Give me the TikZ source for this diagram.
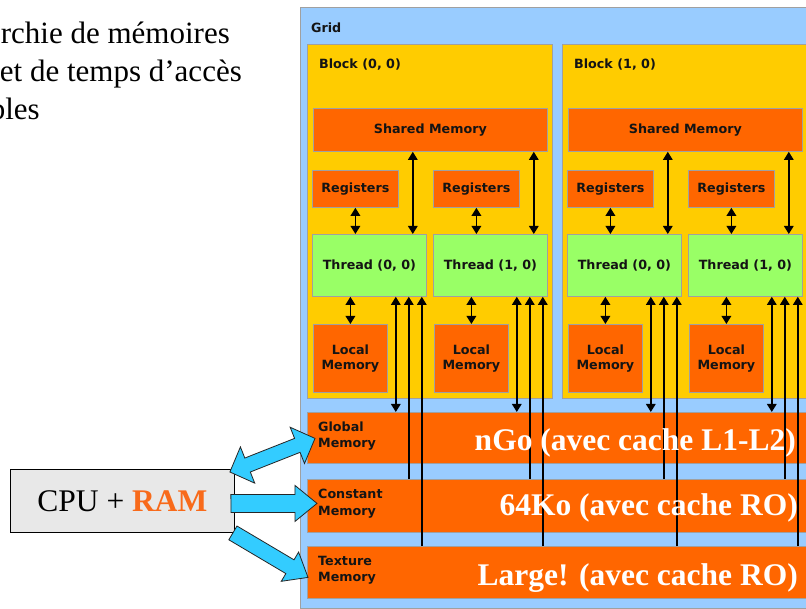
\documentclass[tikz,border=0pt]{standalone}
\usepackage{fontspec}
\setmainfont{Liberation Serif}
\newfontfamily\diagfont{DejaVu Sans}
\usetikzlibrary{calc,arrows.meta}

\definecolor{gridblue}{HTML}{99CCFF}
\definecolor{blockgold}{HTML}{FFCC00}
\definecolor{memorange}{HTML}{FF6600}
\definecolor{threadgreen}{HTML}{99FF66}
\definecolor{edgegray}{HTML}{A0A0A0}
\definecolor{labelink}{HTML}{141414}
\definecolor{cpugray}{HTML}{E8E8E8}
\definecolor{busblue}{HTML}{33CCFF}
\definecolor{ramorange}{HTML}{F86A1A}

% single-headed block arrow: from, to, head length, head half width, shaft half width
\newcommand\fatarrow[5]{%
  \coordinate (fa-h) at ($(#2)!#3!(#1)$);
  \filldraw[fatarrow] ($(#1)!#5!90:(#2)$) -- ($(fa-h)!#5!90:(#2)$) -- ($(fa-h)!#4!90:(#2)$)
    -- (#2) -- ($(fa-h)!#4!-90:(#2)$) -- ($(fa-h)!#5!-90:(#2)$) -- ($(#1)!#5!-90:(#2)$) -- cycle;
}
% double-headed block arrow with the same parameters
\newcommand\fatdblarrow[5]{%
  \coordinate (fa-h1) at ($(#1)!#3!(#2)$);
  \coordinate (fa-h2) at ($(#2)!#3!(#1)$);
  \filldraw[fatarrow] (#1) -- ($(fa-h1)!#4!90:(#2)$) -- ($(fa-h1)!#5!90:(#2)$)
    -- ($(fa-h2)!#5!90:(#2)$) -- ($(fa-h2)!#4!90:(#2)$) -- (#2)
    -- ($(fa-h2)!#4!-90:(#2)$) -- ($(fa-h2)!#5!-90:(#2)$)
    -- ($(fa-h1)!#5!-90:(#2)$) -- ($(fa-h1)!#4!-90:(#2)$) -- cycle;
}

\tikzset{
  diaglabel/.style={font=\diagfont\bfseries\fontsize{12.7}{15.5}\selectfont, text=labelink},
  box/.style={draw=edgegray, line width=0.8pt, inner sep=0pt, diaglabel},
  gridbox/.style={box, fill=gridblue},
  blockbox/.style={box, fill=blockgold},
  membox/.style={box, fill=memorange},
  threadbox/.style={box, fill=threadgreen},
  lbl/.style={inner sep=0pt, diaglabel},
  memlbl/.style={inner sep=0pt, align=left, font=\diagfont\bfseries\fontsize{12.7}{16.5}\selectfont, text=labelink},
  link/.style={line width=1.4pt, draw=black, {Triangle[width=9.5pt,length=8pt]}-{Triangle[width=9.5pt,length=8pt]}},
  uplink/.style={line width=1.4pt, draw=black, -{Triangle[width=9.5pt,length=8pt]}},
  sizetext/.style={inner sep=0pt, anchor=base east, text=white, font=\bfseries\fontsize{31.5}{36}\selectfont},
  fatarrow/.style={fill=busblue, draw=black!85, line width=0.8pt, line join=miter},
  cpubox/.style={draw=black, line width=0.9pt, fill=cpugray, inner sep=0pt, font=\fontsize{31.5}{36}\selectfont},
  titletext/.style={inner sep=0pt, anchor=base east, font=\fontsize{31}{38}\selectfont}
}

\begin{document}
\begin{tikzpicture}[x=1pt, y=-1pt]
\useasboundingbox (0,0) rectangle (806,609);
\fill[white] (0,0) rectangle (806,609);

% grid
\node[gridbox, anchor=north west, minimum width=530pt, minimum height=601pt] (grid) at (300,7) {};
\node[lbl, anchor=west] (gridl) at (311,28) {Grid};

% blocks with their shared memory, registers, threads and local memories
\foreach \b/\dx in {0/0,1/255}{
  \node[blockbox, anchor=north west, minimum width=245pt, minimum height=354pt] (blk\b) at (307+\dx,44) {};
  \node[lbl, anchor=west] (blkl\b) at (319+\dx,65) {Block (\b, 0)};
  \node[membox, anchor=north west, minimum width=234pt, minimum height=43pt] (sm\b) at (313+\dx,108) {Shared Memory};
  \foreach \t/\tx in {0/0,1/121}{
    \node[membox, anchor=north west, minimum width=86pt, minimum height=37pt] (reg\b\t) at (312+\dx+\tx,170) {Registers};
    \node[threadbox, anchor=north west, minimum width=114pt, minimum height=62pt] (th\b\t) at (312+\dx+\tx,234) {Thread (\t, 0)};
    \node[membox, anchor=north west, minimum width=74pt, minimum height=68pt, align=center] (lm\b\t) at (313+\dx+\tx,324) {Local\\Memory};
  }
}

% device memories
\node[membox, anchor=north west, minimum width=520pt, minimum height=51pt] (gmem) at (307,412) {};
\node[membox, anchor=north west, minimum width=520pt, minimum height=53pt] (cmem) at (307,479) {};
\node[membox, anchor=north west, minimum width=520pt, minimum height=52pt] (tmem) at (307,546) {};

% per-thread access paths
\foreach \b in {0,1}{
  \foreach \t in {0,1}{
    \draw[link] (reg\b\t.south) -- (reg\b\t.south |- th\b\t.north);
    \draw[link] (lm\b\t.north) -- (lm\b\t.north |- th\b\t.south);
    \coordinate (cs) at ($(th\b\t.north east)+(-14,0)$);
    \draw[link] (cs) -- (cs |- sm\b.south);
    \coordinate (cg) at ($(th\b\t.south east)+(-31,0)$);
    \draw[link] (cg) -- (cg |- gmem.north);
    \coordinate (cc) at ($(th\b\t.south east)+(-18,0)$);
    \draw[uplink] (cc |- cmem.north) -- (cc);
    \coordinate (ct) at ($(th\b\t.south east)+(-5,0)$);
    \draw[uplink] (ct |- tmem.north) -- (ct);
  }
}

% memory names and sizes
\node[memlbl, anchor=west] (gmeml) at ($(gmem.west)+(11,-2)$) {Global\\Memory};
\node[memlbl, anchor=west] (cmeml) at ($(cmem.west)+(11,-2)$) {Constant\\Memory};
\node[memlbl, anchor=west] (tmeml) at ($(tmem.west)+(11,-2)$) {Texture\\Memory};
\node[sizetext] (gsize) at (796,450) {nGo (avec cache L1-L2)};
\node[sizetext] (csize) at (798,515) {64Ko (avec cache RO)};
\node[sizetext] (tsize) at (798,585) {Large! (avec cache RO)};

% host
\node[cpubox, anchor=north west, minimum width=224pt, minimum height=63pt] (cpu) at (10,469)
  {CPU + \textbf{\textcolor{ramorange}{RAM}}};

% host <-> device transfers
\coordinate (gbus-a) at ($(cpu.north east)+(-5,3)$);
\coordinate (gbus-b) at ($(gmem.west)+(8,0.5)$);
\fatdblarrow{gbus-a}{gbus-b}{19pt}{19.5pt}{7.5pt}
\coordinate (cbus-a) at ($(cpu.east)+(-4,2.5)$);
\coordinate (cbus-b) at ($(cmem.west)+(10,-2.5)$);
\fatarrow{cbus-a}{cbus-b}{22pt}{18pt}{9pt}
\coordinate (tbus-a) at ($(cpu.south east)+(-2,0)$);
\coordinate (tbus-b) at ($(tmem.west)+(1,5)$);
\fatarrow{tbus-a}{tbus-b}{21pt}{17pt}{8pt}

% heading text, running in from the left edge
\node[titletext] (t1) at (230,44) {rchie de mémoires};
\node[titletext] (t2) at (242,82) {et de temps d’accès};
\node[titletext] (t3) at (40,120) {bles};
\end{tikzpicture}
\end{document}
